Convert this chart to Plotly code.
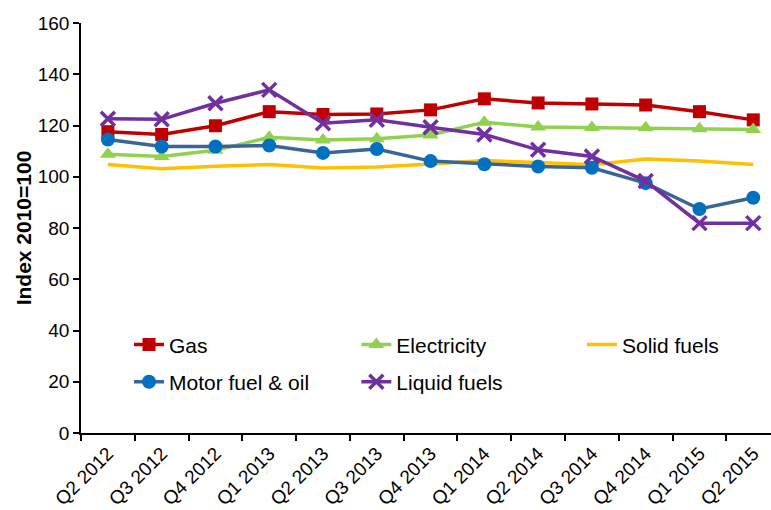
import plotly.graph_objects as go

quarters = ["Q2 2012", "Q3 2012", "Q4 2012", "Q1 2013", "Q2 2013", "Q3 2013", "Q4 2013",
            "Q1 2014", "Q2 2014", "Q3 2014", "Q4 2014", "Q1 2015", "Q2 2015"]
gas = [117.6, 116.5, 119.9, 125.4, 124.3, 124.5, 126.1, 130.4, 128.8, 128.4, 128.0, 125.4, 122.2]
electricity = [108.8, 107.9, 110.3, 115.4, 114.3, 114.8, 116.3, 121.3, 119.4, 119.2, 119.1, 118.7, 118.4]
solid_fuels = [104.8, 103.1, 104.1, 104.8, 103.4, 103.8, 105.0, 106.3, 105.6, 104.7, 106.9, 106.1, 104.8]
motor_fuel = [114.5, 111.8, 111.8, 112.2, 109.3, 110.8, 106.1, 104.9, 104.0, 103.5, 97.5, 87.4, 91.8]
liquid_fuels = [122.6, 122.4, 128.7, 133.9, 120.9, 122.2, 119.3, 116.5, 110.5, 107.9, 98.3, 81.9, 81.9]

font = "Liberation Sans, Arial, sans-serif"
fig = go.Figure()

fig.add_trace(go.Scatter(x=quarters, y=gas, name="Gas", mode="lines+markers",
                         line=dict(color="#C00000", width=3.5),
                         marker=dict(symbol="square", size=13, color="#C00000"),
                         legend="legend", legendgroup="g1"))
fig.add_trace(go.Scatter(x=quarters, y=electricity, name="Electricity", mode="lines+markers",
                         line=dict(color="#92D050", width=3.5),
                         marker=dict(symbol="triangle-up", size=14, color="#92D050"),
                         legend="legend2", legendgroup="g2"))
fig.add_trace(go.Scatter(x=quarters, y=solid_fuels, name="Solid fuels", mode="lines",
                         line=dict(color="#FFC000", width=3.5),
                         legend="legend3", legendgroup="g3"))
fig.add_trace(go.Scatter(x=quarters, y=motor_fuel, name="Motor fuel & oil", mode="lines+markers",
                         line=dict(color="#3A6597", width=3.5),
                         marker=dict(symbol="circle", size=14, color="#0070C0"),
                         legend="legend", legendgroup="g4"))
fig.add_trace(go.Scatter(x=quarters, y=liquid_fuels, name="Liquid fuels", mode="lines+markers",
                         line=dict(color="#7030A0", width=3.5),
                         marker=dict(symbol="x-thin", size=14, color="#7030A0",
                                     line=dict(color="#7030A0", width=3.5)),
                         legend="legend2", legendgroup="g5"))

legend_common = dict(orientation="v", xanchor="left", yanchor="top",
                     font=dict(family=font, size=21, color="#000000"),
                     bgcolor="rgba(0,0,0,0)", traceorder="grouped", tracegroupgap=7,
                     itemwidth=30)

fig.update_layout(
    width=771, height=510,
    margin=dict(l=81, r=0, t=23, b=77),
    paper_bgcolor="white", plot_bgcolor="white",
    font=dict(family=font, size=19, color="#000000"),
    showlegend=True,
    legend=dict(x=0.0696, y=0.265, **legend_common),
    legend2=dict(x=0.399, y=0.265, **legend_common),
    legend3=dict(x=0.726, y=0.265, **legend_common),
    xaxis=dict(type="category", range=[-0.5, 12.33], tickson="boundaries", ticks="outside",
               ticklen=6, tickcolor="black", tickwidth=1.5, showline=True, linecolor="black",
               linewidth=2, tickangle=-45, showgrid=False, zeroline=False, automargin=False,
               tickfont=dict(family=font, size=19)),
    yaxis=dict(range=[0, 160], dtick=20, ticks="outside", ticklen=6, tickcolor="black",
               tickwidth=1.5, showline=True, linecolor="black", linewidth=1.5, showgrid=False,
               zeroline=False, automargin=False, tickfont=dict(family=font, size=19),
               title=dict(text="<b>Index 2010=100</b>", font=dict(family=font, size=21),
                          standoff=0)),
)

fig.write_html("out.html", config={"displayModeBar": False},
               post_script="document.body.style.margin='0px';document.body.style.overflow='hidden';")
